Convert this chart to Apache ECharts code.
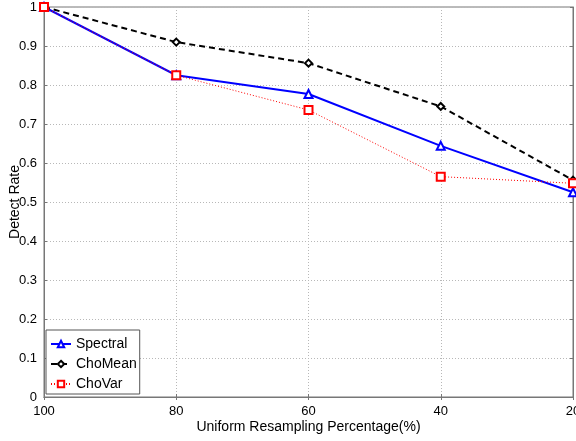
<!DOCTYPE html>
<html>
<head>
<meta charset="utf-8">
<script src="https://cdn.jsdelivr.net/npm/echarts@6/dist/echarts.min.js"></script>
<style>
  html, body { margin: 0; padding: 0; background: #fff; }
  #chart { width: 576px; height: 441px; }
</style>
</head>
<body>
<div id="chart"></div>
<script>
// Resampling percentage on the x axis (shown decreasing from 100 to 20)
const percentages = [100, 80, 60, 40, 20];
// Detection rates per method
const spectral = [1.0, 0.825, 0.777, 0.644, 0.525];
const choMean = [1.0, 0.910, 0.856, 0.745, 0.556];
const choVar = [1.0, 0.825, 0.736, 0.565, 0.548];
const seriesNames = ['Spectral', 'ChoMean', 'ChoVar'];
const xTitle = 'Uniform Resampling Percentage(%)';
const yTitle = 'Detect Rate';

const FONT = '"Liberation Sans", Arial, Helvetica, sans-serif';
const boxColor = '#777777';
const gridLine = { show: true, lineStyle: { color: '#b8b8b8', type: [1, 2], width: 1 } };

function pairs(vals) { return percentages.map((p, i) => [p, vals[i]]); }
function yFmt(v) {
  const s = (Math.round(v * 10) / 10).toFixed(1);
  return s === '1.0' ? '1' : (s === '0.0' ? '0' : s);
}

const chart = echarts.init(document.getElementById('chart'), null, { renderer: 'canvas' });
chart.setOption({
  animation: false,
  backgroundColor: '#ffffff',
  textStyle: { fontFamily: FONT, color: '#000' },
  grid: {
    left: 44, right: 3, top: 7, bottom: 44,
    outerBoundsMode: 'none', containLabel: false,
    show: true, borderColor: boxColor, borderWidth: 1, backgroundColor: 'transparent'
  },
  xAxis: [{
    type: 'value', inverse: true, min: 20, max: 100, interval: 20,
    name: xTitle, nameLocation: 'middle', nameGap: 23, nameMoveOverlap: false,
    nameTextStyle: { fontSize: 14, color: '#000', fontFamily: FONT },
    axisLine: { show: true, lineStyle: { color: boxColor } },
    axisTick: { show: true, inside: true, length: 3, lineStyle: { color: boxColor } },
    axisLabel: { fontSize: 13, color: '#000', margin: 8, fontFamily: FONT },
    splitLine: gridLine
  }, {
    type: 'value', inverse: true, min: 20, max: 100, interval: 20, position: 'top',
    axisLine: { show: true, lineStyle: { color: boxColor } },
    axisTick: { show: true, inside: true, length: 3, lineStyle: { color: boxColor } },
    axisLabel: { show: false }, splitLine: { show: false }
  }],
  yAxis: [{
    type: 'value', min: 0, max: 1, interval: 0.1,
    name: yTitle, nameLocation: 'middle', nameGap: 22, nameMoveOverlap: false,
    nameTextStyle: { fontSize: 14, color: '#000', fontFamily: FONT },
    axisLine: { show: true, lineStyle: { color: boxColor } },
    axisTick: { show: true, inside: true, length: 3, lineStyle: { color: boxColor } },
    axisLabel: { fontSize: 13, color: '#000', margin: 7, formatter: yFmt, fontFamily: FONT },
    splitLine: gridLine
  }, {
    type: 'value', min: 0, max: 1, interval: 0.1, position: 'right',
    axisLine: { show: true, lineStyle: { color: boxColor } },
    axisTick: { show: true, inside: true, length: 3, lineStyle: { color: boxColor } },
    axisLabel: { show: false }, splitLine: { show: false }
  }],
  legend: {
    orient: 'vertical', left: 46, top: 330,
    padding: [7, 3, 3, 4], itemGap: 6, itemWidth: 20, itemHeight: 8,
    borderColor: '#555', borderWidth: 1, backgroundColor: '#fff',
    textStyle: { fontSize: 14, color: '#000', fontFamily: FONT },
    data: seriesNames
  },
  series: [{
    name: seriesNames[0], type: 'line', data: pairs(spectral), clip: false,
    symbol: 'emptyTriangle', symbolSize: 8,
    lineStyle: { color: '#0000ff', width: 2 },
    itemStyle: { color: '#0000ff', borderColor: '#0000ff', borderWidth: 1.5 }
  }, {
    name: seriesNames[1], type: 'line', data: pairs(choMean), clip: false,
    symbol: 'emptyDiamond', symbolSize: 7,
    lineStyle: { color: '#000000', width: 2, type: [6, 4] },
    itemStyle: { color: '#000000', borderColor: '#000000', borderWidth: 1.5 }
  }, {
    name: seriesNames[2], type: 'line', data: pairs(choVar), clip: false,
    symbol: 'emptyRect', symbolSize: 8,
    lineStyle: { color: '#ff0000', width: 1, type: [1, 2] },
    itemStyle: { color: '#ff0000', borderColor: '#ff0000', borderWidth: 2 }
  }]
});
</script>
</body>
</html>
